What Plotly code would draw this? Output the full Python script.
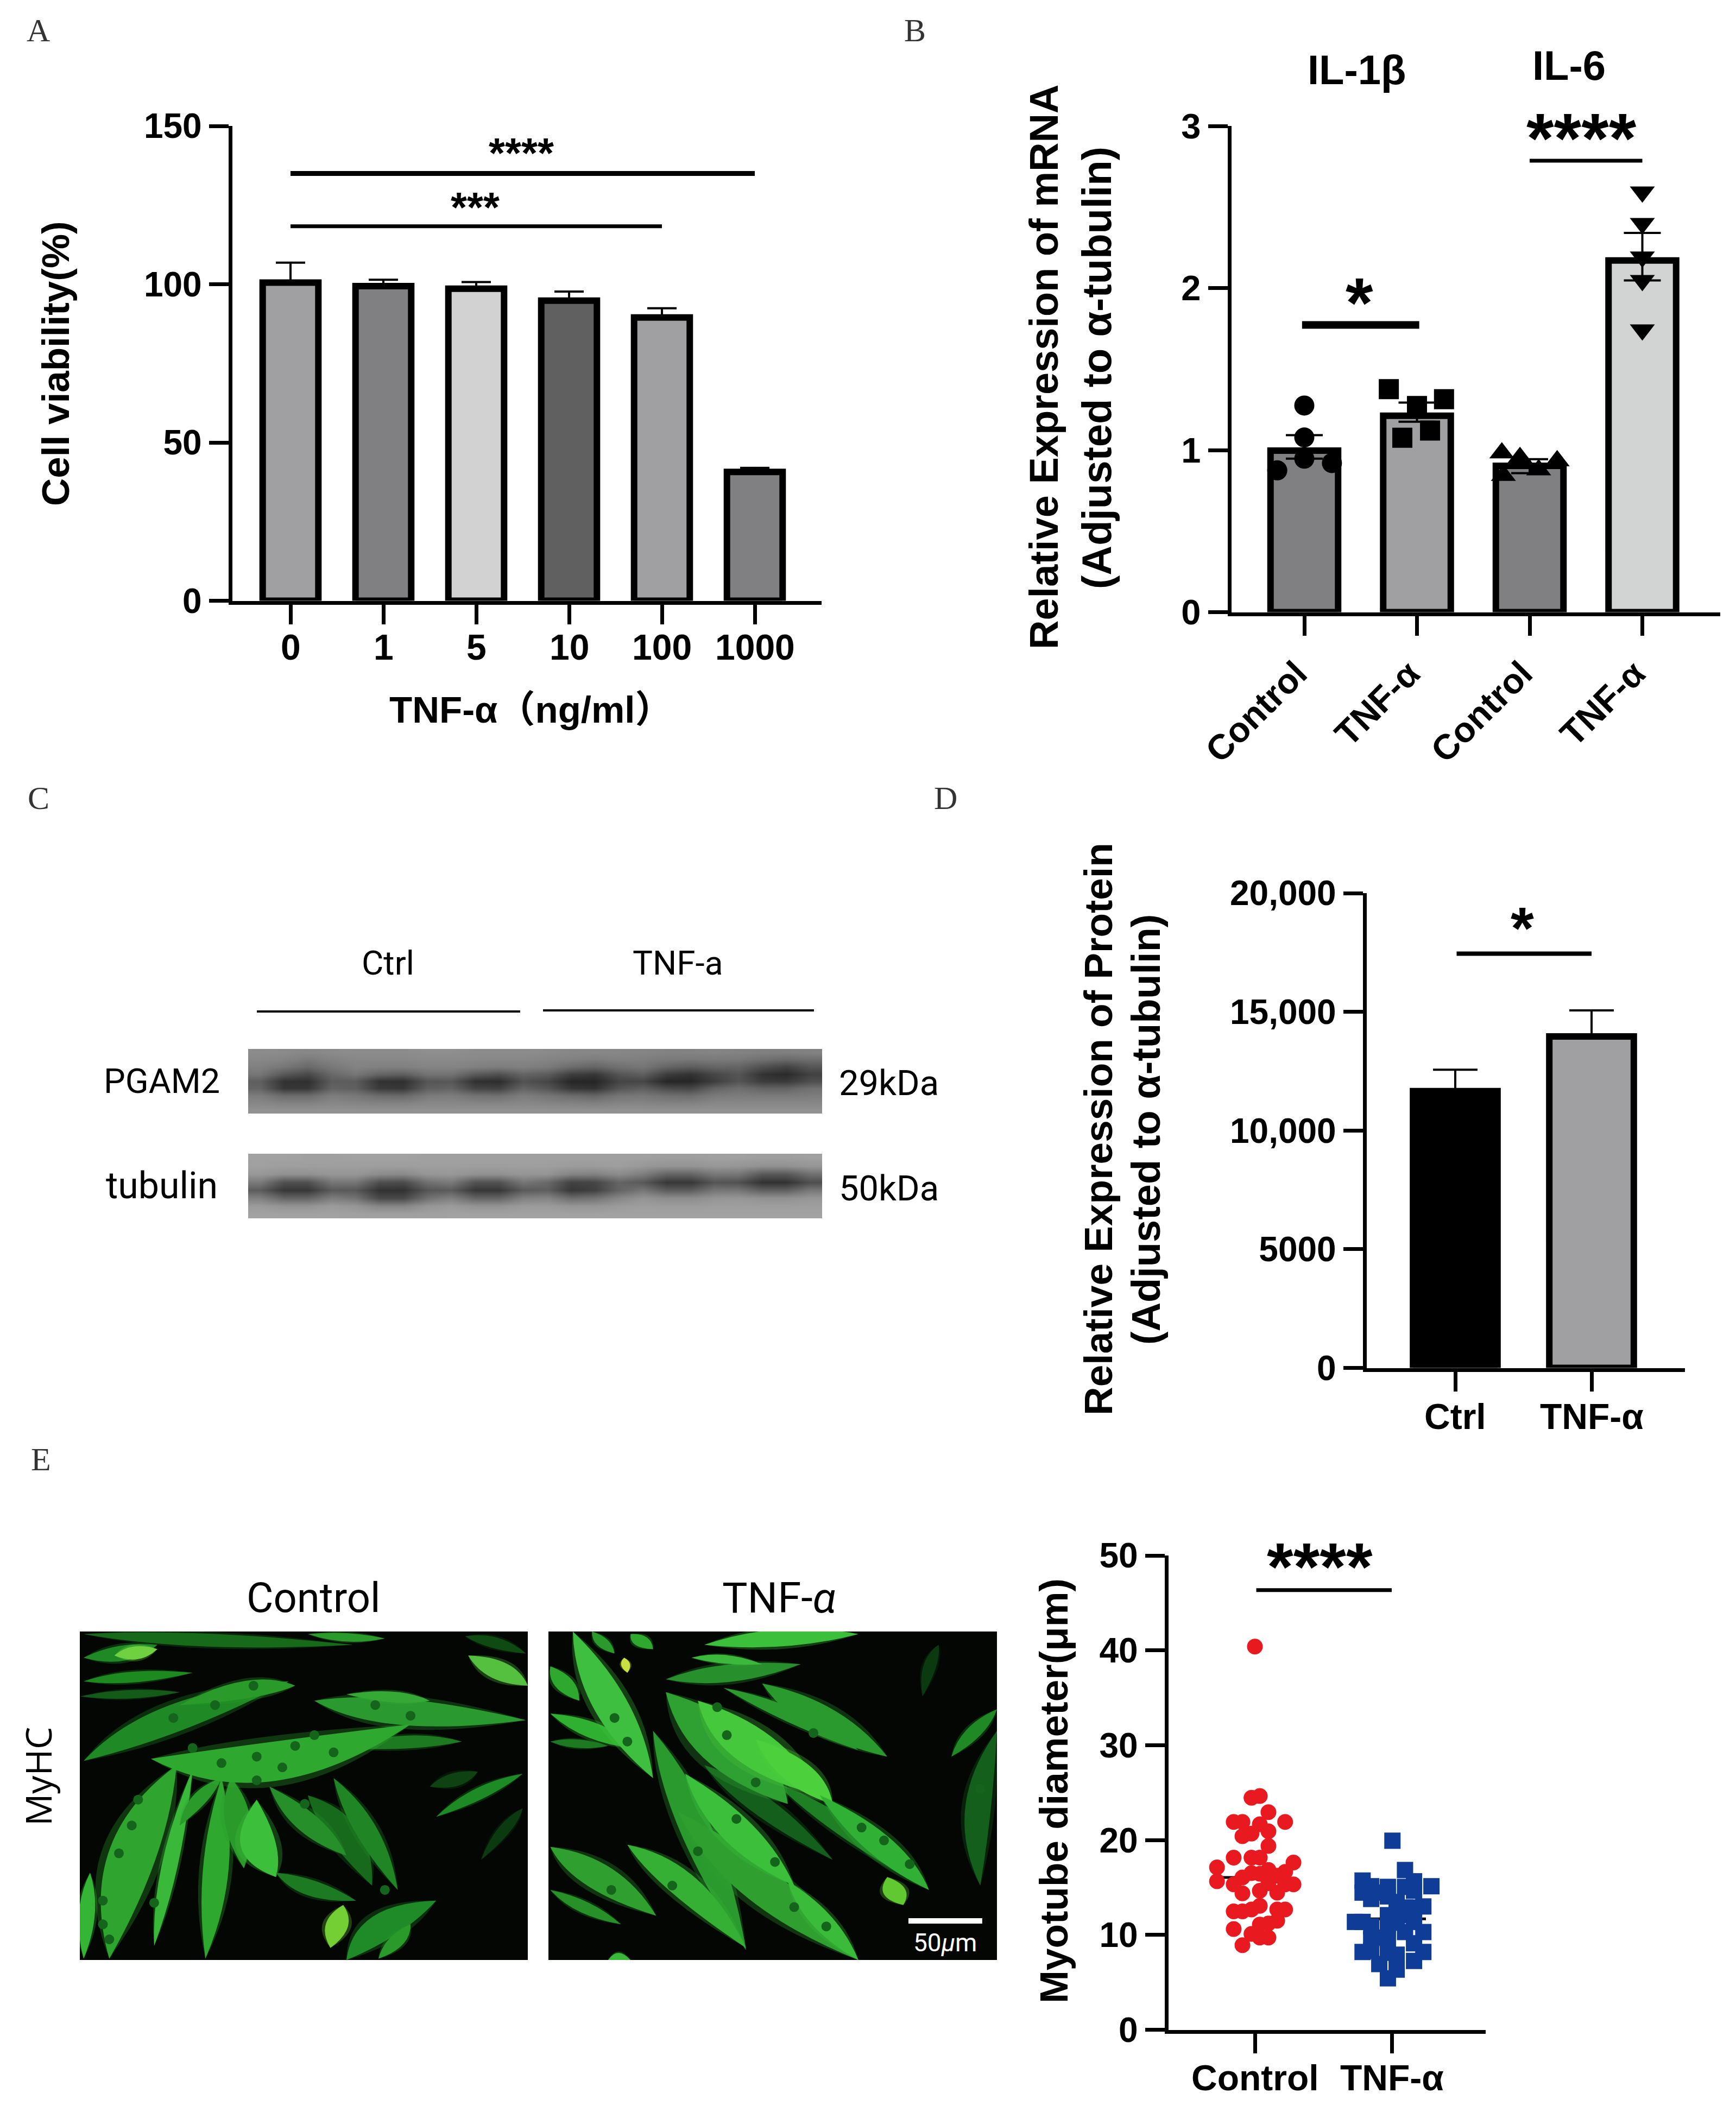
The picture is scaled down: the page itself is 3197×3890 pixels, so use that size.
import plotly.graph_objects as go

W, H = 3197, 3890
PAGE_PAD = 8  # the page keeps a small body margin round the plot div
SANS = "Liberation Sans, Noto Sans CJK SC"
AXIS_LW = 7

# Panel A - cell viability
dose_labels = ["0", "1", "5", "10", "100", "1000"]
viability = [100.5, 99.4, 98.6, 94.8, 89.5, 40.7]
viability_err = [6.3, 2.0, 2.1, 2.9, 2.9, 1.3]
viability_colors = ["#a0a0a3", "#808082", "#d2d2d2", "#606060", "#a0a0a3", "#808082"]

# Panel B - mRNA
mrna_labels = ["Control", "TNF-α", "Control", "TNF-α"]
mrna_means = [0.997, 1.212, 0.903, 2.17]
mrna_err_plus = [0.095, 0.081, 0.041, 0.17]
mrna_err_minus = [0.05, 0.037, 0.045, 0.123]
mrna_colors = ["#808082", "#a0a0a3", "#808082", "#d2d4d4"]
il1b_ctrl = [1.275, 1.078, 0.947, 0.875, 0.92]
il1b_ctrl_off = [0, 0, 0, -0.24, 0.245]
il1b_tnf = [1.376, 1.272, 1.314, 1.121, 1.076]
il1b_tnf_off = [-0.25, 0, 0.24, 0.116, -0.13]
il6_ctrl = [0.982, 0.954, 0.878, 0.934, 0.843]
il6_ctrl_off = [-0.247, -0.086, 0.08, 0.244, -0.233]
il6_tnf = [2.593, 2.399, 2.192, 2.047, 1.742]

# Panel D - protein
protein_labels = ["Ctrl", "TNF-α"]
protein = [11660, 13960]
protein_err = [900, 1100]
protein_colors = ["#000000", "#a0a0a3"]

# Panel E - myotube diameter
myotube_labels = ["Control", "TNF-α"]
myotube_means = [16.05, 11.69]
diam_ctrl = [40.4, 24.45, 24.64, 22.94, 21.91, 21.91, 21.91, 21.67, 20.92, 20.40, 20.68, 19.37,
             18.15, 18.15, 18.15, 17.12, 17.63, 16.84, 15.65, 16.64, 16.52, 16.44, 16.24, 16.05,
             16.05, 15.33, 15.33, 15.33, 14.66, 14.38, 14.46, 15.45, 13.07, 12.68, 12.48, 12.48,
             12.68, 12.68, 10.62, 11.09, 11.21, 11.49, 10.10, 9.71, 9.71, 8.91]
diam_ctrl_off = [0.0, -0.025, 0.036, 0.099, 0.221, -0.155, -0.091, 0.036, 0.099, -0.091, -0.025, 0.099,
                 -0.155, -0.025, 0.036, -0.277, 0.282, 0.099, -0.277, 0.221, -0.025, 0.036, 0.163, 0.099,
                 -0.091, -0.155, 0.282, 0.221, 0.036, -0.091, 0.163, 0.099, 0.036, -0.025, -0.155, -0.091,
                 0.163, 0.221, -0.155, 0.036, 0.099, 0.163, -0.025, 0.036, 0.099, -0.091]
diam_tnf = [19.93, 16.84, 15.73, 15.65, 15.13, 15.13, 15.06, 15.06, 14.46, 14.46, 14.06, 14.66,
            13.79, 13.47, 13.0, 12.88, 12.88, 12.08, 12.08, 12.08, 11.37, 11.37, 10.9, 11.37,
            11.09, 11.29, 10.3, 10.3, 9.51, 9.71, 9.79, 9.11, 8.2, 8.32, 8.12, 7.92, 8.2, 7.25,
            6.93, 6.34, 5.43]
diam_tnf_off = [0.005, 0.097, -0.213, 0.163, 0.29, -0.15, -0.028, 0.097, -0.213, -0.091, -0.028, 0.163,
                -0.15, 0.036, 0.231, 0.163, 0.097, -0.028, 0.036, 0.097, -0.269, -0.213, -0.15, 0.163,
                -0.028, 0.036, 0.097, 0.231, -0.15, -0.091, -0.028, 0.163, -0.213, -0.15, -0.028, 0.036,
                0.231, 0.163, -0.091, 0.036, -0.028]

# Panel C - western blot, grey level per lane column (4 columns a lane)
pgam2_blot = [
    [140, 138, 135, 138, 140, 140, 140, 142, 142, 140, 140, 140, 138, 135, 135, 135, 132, 130, 130, 132, 130, 128, 128, 130],
    [135, 132, 122, 130, 135, 135, 135, 138, 138, 136, 135, 135, 132, 128, 125, 128, 126, 122, 120, 122, 120, 112, 105, 110],
    [128, 118, 105, 120, 130, 128, 128, 132, 132, 128, 125, 128, 122, 108, 100, 112, 118, 100, 92, 100, 100, 80, 66, 85],
    [118, 88, 72, 105, 118, 100, 95, 115, 115, 90, 80, 100, 92, 62, 55, 85, 95, 60, 50, 70, 85, 50, 42, 65],
    [95, 50, 48, 92, 92, 50, 48, 85, 88, 48, 45, 82, 70, 38, 38, 68, 70, 38, 38, 62, 85, 60, 58, 78],
    [100, 55, 55, 100, 95, 58, 55, 95, 100, 68, 65, 100, 85, 55, 50, 85, 95, 75, 70, 100, 110, 100, 100, 112],
    [125, 108, 108, 125, 120, 108, 105, 122, 125, 115, 112, 125, 118, 108, 102, 118, 120, 112, 110, 122, 125, 122, 122, 125],
    [135, 130, 130, 135, 132, 130, 130, 135, 135, 132, 132, 135, 132, 130, 128, 132, 132, 130, 130, 135, 135, 135, 135, 135],
    [145, 145, 145, 145, 145, 145, 145, 145, 145, 145, 145, 145, 145, 145, 145, 145, 145, 145, 145, 145, 145, 145, 145, 145],
]
tubulin_blot = [
    [162, 162, 160, 160, 162, 162, 162, 160, 160, 160, 160, 160, 160, 160, 160, 160, 160, 158, 158, 160, 160, 158, 158, 160],
    [160, 158, 158, 158, 158, 158, 158, 158, 158, 158, 158, 158, 158, 156, 156, 158, 152, 148, 148, 152, 150, 145, 145, 150],
    [152, 145, 145, 150, 150, 140, 138, 150, 152, 145, 145, 150, 148, 132, 130, 140, 125, 100, 100, 120, 118, 88, 88, 112],
    [122, 80, 80, 118, 118, 78, 75, 112, 122, 82, 82, 118, 105, 65, 70, 100, 88, 55, 55, 85, 80, 50, 50, 78],
    [92, 55, 55, 90, 88, 50, 50, 85, 92, 55, 55, 90, 95, 55, 65, 100, 118, 92, 92, 118, 118, 95, 95, 120],
    [128, 100, 100, 125, 115, 72, 72, 112, 128, 100, 100, 128, 132, 108, 115, 135, 148, 140, 140, 148, 150, 145, 145, 150],
    [155, 148, 148, 155, 150, 135, 135, 150, 155, 148, 148, 155, 155, 150, 150, 155, 158, 156, 156, 158, 158, 158, 158, 158],
    [162, 162, 162, 162, 160, 160, 160, 160, 162, 162, 162, 162, 162, 162, 162, 162, 162, 162, 162, 162, 162, 162, 162, 162],
]

# Panel E micrographs - traced myotubes: start, bend, end, half width, colour
control_tubes = [
    (130, 455, 300, 470, 550, 480, 30, "#176a1a"), (480, 455, 540, 465, 600, 465, 20, "#2a9a2a"),
    (725, 460, 770, 470, 820, 500, 25, "#0f4a12"), (130, 510, 190, 505, 245, 480, 35, "#1f8a25"),
    (130, 565, 200, 555, 300, 545, 25, "#1d8a20"), (125, 600, 200, 595, 280, 590, 20, "#145a18"),
    (130, 750, 260, 640, 450, 565, 60, "#1f8a25"), (280, 620, 400, 570, 460, 575, 40, "#2a9a2a"),
    (490, 610, 600, 640, 820, 655, 60, "#2a9a30"), (540, 595, 620, 600, 670, 610, 25, "#35a835"),
    (530, 720, 640, 700, 720, 705, 30, "#1d7a20"), (730, 505, 780, 540, 823, 575, 40, "#55c040"),
    (480, 830, 540, 900, 580, 1040, 50, "#176a1c"), (520, 790, 570, 900, 620, 1050, 35, "#1f8525"),
    (170, 1210, 190, 950, 275, 760, 75, "#2fa52f"), (240, 1180, 260, 1000, 300, 770, 25, "#3ab83a"),
    (320, 1210, 340, 1000, 345, 790, 40, "#2fa82f"), (280, 900, 310, 830, 345, 790, 25, "#2a9a2a"),
    (360, 790, 370, 880, 380, 1000, 40, "#2a9a2a"), (420, 810, 480, 900, 540, 970, 40, "#268f2a"),
    (400, 840, 390, 960, 430, 1020, 55, "#3cc03c"), (130, 1210, 135, 1100, 140, 1010, 25, "#35b535"),
    (430, 1010, 480, 1050, 555, 1075, 35, "#1c7a22"), (540, 1213, 590, 1120, 680, 1075, 55, "#1f8a28"),
    (590, 1210, 620, 1170, 640, 1130, 25, "#2a9a2a"), (680, 880, 750, 820, 815, 780, 25, "#1d8a25"),
    (670, 810, 710, 795, 745, 775, 30, "#0f4212"), (750, 980, 790, 900, 815, 860, 20, "#0c3a10"),
    (235, 745, 400, 800, 640, 665, 90, "#2fa82f"), (178, 505, 210, 500, 245, 490, 30, "#6fd040"),
    (535, 1085, 525, 1130, 515, 1185, 35, "#74cf35"),
]
tnf_tubes = [
    (1440, 600, 1450, 520, 1465, 480, 20, "#0c3a10"), (1530, 1040, 1510, 860, 1556, 680, 40, "#155f1c"),
    (1485, 740, 1520, 680, 1556, 630, 25, "#1f8a25"), (925, 449, 940, 475, 960, 500, 20, "#2a9a2a"),
    (985, 455, 1000, 470, 1020, 490, 25, "#2fa82f"), (860, 530, 880, 570, 905, 610, 30, "#2fa82f"),
    (860, 705, 900, 710, 950, 715, 20, "#1e7a22"), (860, 640, 930, 680, 990, 720, 35, "#30b030"),
    (895, 449, 950, 620, 1020, 790, 55, "#3fbf3f"), (1040, 560, 1130, 550, 1250, 525, 40, "#27902c"),
    (1080, 510, 1130, 510, 1190, 525, 20, "#3cb83c"), (1100, 480, 1220, 460, 1340, 455, 40, "#3cc03c"),
    (1100, 760, 1180, 840, 1300, 980, 40, "#155f1c"), (1130, 580, 1240, 640, 1340, 725, 30, "#2a9a2e"),
    (1190, 570, 1280, 650, 1385, 740, 55, "#2a9a2e"), (1210, 800, 1320, 900, 1440, 1040, 35, "#1f7f25"),
    (1040, 590, 1140, 720, 1230, 850, 90, "#2fa032"), (1090, 610, 1170, 720, 1280, 830, 75, "#46c83c"),
    (1180, 700, 1250, 780, 1300, 850, 50, "#4cd03c"), (1280, 830, 1380, 950, 1450, 1050, 45, "#30b034"),
    (1020, 680, 1080, 880, 1165, 1190, 50, "#2a9a2e"), (1060, 870, 1180, 1040, 1340, 1213, 70, "#2fa030"),
    (1070, 780, 1150, 920, 1240, 1040, 55, "#3cc03c"), (1230, 1030, 1280, 1120, 1340, 1213, 35, "#3abc3a"),
    (980, 945, 1060, 1010, 1165, 1185, 50, "#35b035"), (860, 950, 930, 1010, 1025, 1110, 55, "#2fa02f"),
    (860, 1050, 910, 1090, 970, 1130, 25, "#279028"), (950, 1213, 965, 1200, 985, 1213, 20, "#3ab83a"),
    (1385, 1020, 1395, 1055, 1410, 1085, 35, "#62c832"), (975, 510, 977, 525, 980, 545, 14, "#c8e040"),
]
control_nuclei_x = [345, 400, 460, 490, 400, 300, 185, 160, 160, 170, 205, 215, 240, 335, 270, 585, 640, 440, 520, 395, 475, 600]
control_nuclei_y = [755, 740, 715, 690, 795, 720, 965, 1075, 1130, 1165, 900, 840, 1080, 620, 650, 620, 645, 765, 730, 575, 850, 1050]
tnf_nuclei_x = [960, 980, 1135, 1150, 1210, 1180, 1290, 1345, 955, 1050, 1270, 1530, 1120, 1090, 1240, 1380, 1420]
tnf_nuclei_y = [650, 705, 690, 885, 985, 800, 1135, 905, 1050, 1040, 685, 815, 625, 960, 1090, 935, 990]

PW, PH = W - 2 * PAGE_PAD, H - 2 * PAGE_PAD


def px(x):
    return (x - PAGE_PAD) / PW


def py(y):
    return 1 - (y - PAGE_PAD) / PH


def bold(size):
    return dict(family=SANS, size=size, color="black", weight=700)


def note(text, x, y, size, angle=0, weight=700, family=SANS, color="black"):
    fig.add_annotation(
        text=text, x=px(x), y=py(y), xref="paper", yref="paper", showarrow=False,
        xanchor="center", yanchor="middle", textangle=angle,
        font=dict(family=family, size=size, color=color, weight=weight),
    )


def stars(text, x, y, size):
    # the asterisk sits high in its line box, so push the box down
    note(text, x, y + 0.15 * size, size)


def chart_axes(n, axis_x, axis_end, top, zero, first_tick, spacing, yrange, labels,
               yticks, ytext=None, tickangle=0, label_y=None, tick_size=64):
    left = axis_x + AXIS_LW / 2
    bottom = zero - AXIS_LW / 2
    x0 = (left - first_tick) / spacing
    x1 = (axis_end - first_tick) / spacing
    common = dict(showgrid=False, zeroline=False, showline=True, linecolor="black", linewidth=AXIS_LW,
                  ticks="outside", ticklen=36, tickwidth=AXIS_LW, tickcolor="black", tickfont=bold(tick_size),
                  automargin=False)
    fig.update_layout({
        f"xaxis{n}": dict(domain=[px(left), px(axis_end)], range=[x0, x1], anchor=f"y{n}",
                          tickmode="array", tickvals=list(range(len(labels))), ticktext=labels,
                          tickangle=tickangle, ticklabelstandoff=6, ticklabelshift=-14 if tickangle else 0,
                          showticklabels=label_y is None, **common),
        f"yaxis{n}": dict(domain=[py(bottom), py(top)], range=yrange, anchor=f"x{n}",
                          tickmode="array", tickvals=yticks, ticktext=ytext or [str(v) for v in yticks],
                          ticklabelstandoff=0, **common),
    })
    if label_y is not None:
        # the labels sit closer to the ticks than the axis would put them
        for i, lab in enumerate(labels):
            fig.add_annotation(text=lab, x=i, y=py(label_y), xref=f"x{n}", yref="paper", showarrow=False,
                               xanchor="center", yanchor="middle", font=bold(tick_size + 2))


def add_bars(n, means, plus, minus, colors, width, cap):
    xs = list(range(len(means)))
    fig.add_trace(go.Bar(
        x=xs, y=means, width=width, xaxis=f"x{n}", yaxis=f"y{n}",
        marker=dict(color=colors, line=dict(color="black", width=12)),
        error_y=dict(type="data", symmetric=False, array=plus, arrayminus=minus,
                     color="black", thickness=4, width=cap),
    ))


def sig_line(n, x0, x1, y, lw):
    fig.add_trace(go.Scatter(x=[x0, x1], y=[y, y], mode="lines", xaxis=f"x{n}", yaxis=f"y{n}",
                             line=dict(color="black", width=lw)))


def points(n, center, offs, vals, symbol, size, color="black"):
    fig.add_trace(go.Scatter(
        x=[center + o for o in offs], y=vals, mode="markers", xaxis=f"x{n}", yaxis=f"y{n}",
        marker=dict(symbol=symbol, size=size, color=color, line=dict(width=0)),
    ))


def blot(n, z, left, right, top, bottom):
    fig.add_trace(go.Heatmap(z=z, xaxis=f"x{n}", yaxis=f"y{n}", zmin=0, zmax=255, zsmooth="best",
                             colorscale=[[0, "black"], [1, "white"]], showscale=False))
    fig.update_layout({
        f"xaxis{n}": dict(domain=[px(left), px(right)], visible=False, anchor=f"y{n}", automargin=False),
        f"yaxis{n}": dict(domain=[py(bottom), py(top)], visible=False, anchor=f"x{n}", autorange="reversed",
                          automargin=False),
    })


def tube_path(ax, ay, cx, cy, bx, by, w):
    dx, dy = bx - ax, by - ay
    norm = (dx * dx + dy * dy) ** 0.5
    nx, ny = -dy / norm * w, dx / norm * w
    return (f"M {ax} {ay} Q {cx + nx} {cy + ny} {bx} {by} "
            f"Q {cx - nx} {cy - ny} {ax} {ay} Z")


def micrograph(n, tubes, nuc_x, nuc_y, x0, x1, left, right):
    fig.update_layout({
        f"xaxis{n}": dict(domain=[px(left), px(right)], range=[x0, x1], visible=False, anchor=f"y{n}", automargin=False),
        f"yaxis{n}": dict(domain=[py(3610), py(3005)], range=[1213, 449], visible=False, anchor=f"x{n}", automargin=False),
    })
    fig.add_shape(type="rect", x0=x0, x1=x1, y0=449, y1=1213, xref=f"x{n}", yref=f"y{n}",
                  fillcolor="#030603", line_width=0, layer="below")
    for ax, ay, cx, cy, bx, by, w, col in tubes:
        # faint halo first so the tube edges are not razor sharp
        fig.add_shape(type="path", path=tube_path(ax, ay, cx, cy, bx, by, w * 1.3), xref=f"x{n}", yref=f"y{n}",
                      fillcolor=col, opacity=0.3, line_width=0, layer="below")
        fig.add_shape(type="path", path=tube_path(ax, ay, cx, cy, bx, by, w), xref=f"x{n}", yref=f"y{n}",
                      fillcolor=col, line_width=0, layer="below")
    fig.add_trace(go.Scatter(x=nuc_x, y=nuc_y, mode="markers", xaxis=f"x{n}", yaxis=f"y{n}",
                             marker=dict(size=18, color="#14641c", line=dict(width=0))))


fig = go.Figure()
fig.update_layout(template="none")

# A
chart_axes(1, 424, 1513, 232, 1110, 535, 171, [0, 150], dose_labels, [0, 50, 100, 150], label_y=1192)
add_bars(1, viability, viability_err, [0] * 6, viability_colors, 0.6, 27)
sig_line(1, 0, 5, 135.0, 9)
sig_line(1, 0, 4, 118.3, 7)
stars("****", 960, 270, 77)
stars("***", 875, 370, 77)
note("Cell viability(%)", 102, 670, 71, angle=-90)
note("TNF-α（ng/ml）", 978, 1308, 69)

# B
chart_axes(2, 2264, 3168, 232, 1131, 2402, 207.5, [0, 3], mrna_labels, [0, 1, 2, 3], tickangle=-45, tick_size=65)
add_bars(2, mrna_means, mrna_err_plus, mrna_err_minus, mrna_colors, 0.6, 34)
points(2, 0, il1b_ctrl_off, il1b_ctrl, "circle", 37)
points(2, 1, il1b_tnf_off, il1b_tnf, "square", 37)
points(2, 2, il6_ctrl_off, il6_ctrl, "triangle-up", 40)
points(2, 3, [0] * 5, il6_tnf, "triangle-down", 40)
sig_line(2, -0.02, 1.02, 1.772, 14)
sig_line(2, 2.0, 3.0, 2.786, 7)
stars("*", 2503, 538, 130)
stars("****", 2912, 235, 130)
note("IL-1β", 2499, 129, 76)
note("IL-6", 2889, 120, 76)
note("Relative Expression of mRNA", 1922, 676, 74, angle=-90)
note("(Adjusted to α-tubulin)", 2019, 678, 76, angle=-90)

# C
blot(3, pgam2_blot, 457, 1514, 1932, 2051)
blot(4, tubulin_blot, 457, 1514, 2125, 2244)
for lx0, lx1, ly in [(473, 958, 1863), (1000, 1499, 1861)]:
    fig.add_shape(type="line", x0=px(lx0), x1=px(lx1), y0=py(ly), y1=py(ly), xref="paper", yref="paper",
                  line=dict(color="black", width=4))
note("Ctrl", 714, 1773, 62, weight=400, family="Roboto")
note("TNF-a", 1248, 1773, 62, weight=400, family="Roboto")
note("PGAM2", 298, 1991, 63, weight=400, family="Roboto")
note("tubulin", 298, 2184, 68, weight=400, family="Roboto")
note("29kDa", 1637, 1995, 65, weight=400, family="Roboto")
note("50kDa", 1637, 2189, 65, weight=400, family="Roboto")

# D
chart_axes(5, 2513, 3103, 1645, 2523, 2680, 251, [0, 20000], protein_labels,
           [0, 5000, 10000, 15000, 20000], ytext=["0", "5000", "10,000", "15,000", "20,000"], label_y=2609)
add_bars(5, protein, protein_err, [0, 0], protein_colors, 0.62, 41)
sig_line(5, 0.01, 1.0, 17448, 8)
stars("*", 2803, 1692, 110)
note("Relative Expression of Protein", 2022, 2080, 73, angle=-90)
note("(Adjusted to α-tubulin)", 2110, 2080, 74, angle=-90)

# E
micrograph(6, control_tubes, control_nuclei_x, control_nuclei_y, 124, 823, 147, 972)
micrograph(7, tnf_tubes, tnf_nuclei_x, tnf_nuclei_y, 857, 1556, 1010, 1836)
fig.add_trace(go.Scatter(x=[1418, 1533], y=[1122, 1122], mode="lines", xaxis="x7", yaxis="y7",
                         line=dict(color="white", width=10)))
fig.add_annotation(text="50<i>μ</i>m", x=1475, y=1172, xref="x7", yref="y7", showarrow=False,
                   font=dict(family="Roboto", size=46, color="white"))
note("Control", 577, 2943, 76, weight=400, family="Roboto")
note("TNF-<i>α</i>", 1435, 2943, 78, weight=400, family="Roboto")
note("MyHC", 69, 3271, 66, angle=-90, weight=400, family="Open Sans")

chart_axes(8, 2148, 2736, 2865, 3742, 2311, 252, [0, 50], myotube_labels, [0, 10, 20, 30, 40, 50], label_y=3827)
for i, mean in enumerate(myotube_means):
    fig.add_trace(go.Scatter(x=[i - 0.25, i + 0.25], y=[mean, mean], mode="lines", xaxis="x8", yaxis="y8",
                             line=dict(color="black", width=5)))
points(8, 0, diam_ctrl_off, diam_ctrl, "circle", 29, "#e8191f")
points(8, 1, diam_tnf_off, diam_tnf, "square", 30, "#0f3c96")
sig_line(8, 0.01, 1.0, 46.35, 7)
stars("****", 2430, 2867, 125)
note("Myotube diameter(μm)", 1940, 3298, 73, angle=-90)

# panel letters
for letter, lx, ly in [("A", 70, 56), ("B", 1685, 56), ("C", 71, 1470), ("D", 1741, 1470), ("E", 75, 2688)]:
    note(letter, lx, ly, 60, weight=400, family="Liberation Serif", color="#333333")

fig.update_layout(
    width=PW, height=PH, autosize=False, margin=dict(l=0, r=0, t=0, b=0, pad=0),
    paper_bgcolor="white", plot_bgcolor="white", showlegend=False, barmode="overlay",
)

fig.write_html("out.html")
